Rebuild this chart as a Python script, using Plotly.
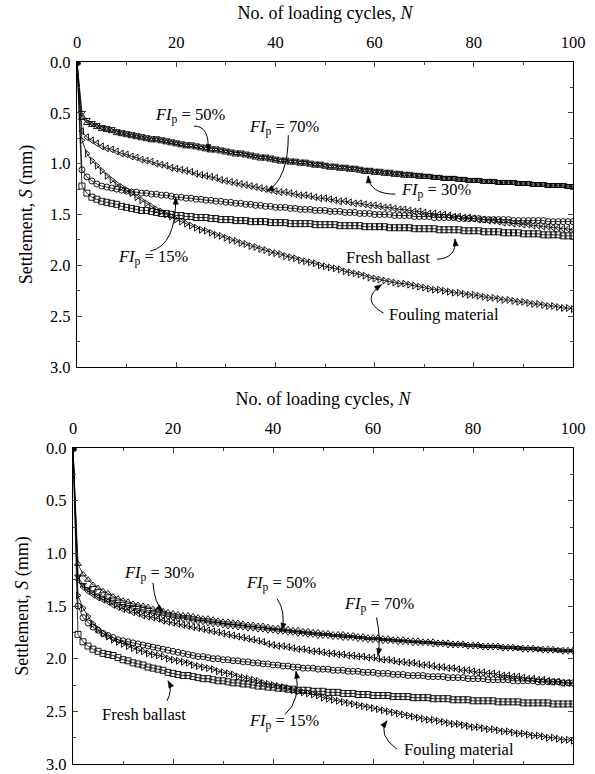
import math
import plotly.graph_objects as go

# ---------------- data ----------------
N = list(range(0, 101))

# Top panel
top_fresh = [0.00,
 1.22,1.29,1.33,1.35,1.37,1.38,1.39,1.40,1.42,1.43,
 1.44,1.45,1.46,1.46,1.47,1.48,1.49,1.49,1.50,1.51,
 1.51,1.52,1.52,1.53,1.53,1.53,1.54,1.54,1.55,1.55,
 1.55,1.56,1.56,1.56,1.57,1.57,1.57,1.57,1.58,1.58,
 1.58,1.58,1.59,1.59,1.59,1.59,1.59,1.60,1.60,1.60,
 1.60,1.60,1.61,1.61,1.61,1.61,1.61,1.62,1.62,1.62,
 1.62,1.62,1.63,1.63,1.63,1.63,1.63,1.64,1.64,1.64,
 1.64,1.64,1.65,1.65,1.65,1.65,1.65,1.66,1.66,1.66,
 1.66,1.67,1.67,1.67,1.67,1.68,1.68,1.68,1.68,1.69,
 1.69,1.69,1.69,1.70,1.70,1.70,1.70,1.71,1.71,1.71]
top_fi15 = [0.00,
 1.06,1.13,1.17,1.20,1.22,1.23,1.24,1.25,1.26,1.27,
 1.28,1.28,1.29,1.29,1.30,1.30,1.31,1.31,1.32,1.33,
 1.33,1.34,1.34,1.35,1.35,1.36,1.36,1.37,1.37,1.38,
 1.38,1.39,1.39,1.40,1.40,1.41,1.41,1.42,1.42,1.43,
 1.43,1.43,1.44,1.44,1.45,1.45,1.45,1.46,1.46,1.46,
 1.47,1.47,1.47,1.48,1.48,1.48,1.49,1.49,1.49,1.50,
 1.50,1.50,1.50,1.51,1.51,1.51,1.51,1.52,1.52,1.52,
 1.52,1.53,1.53,1.53,1.53,1.53,1.54,1.54,1.54,1.54,
 1.54,1.55,1.55,1.55,1.55,1.55,1.55,1.56,1.56,1.56,
 1.56,1.56,1.56,1.56,1.57,1.57,1.57,1.57,1.57,1.57]
top_fi30 = [0.00,
 0.55,0.60,0.62,0.64,0.66,0.67,0.68,0.70,0.71,0.72,
 0.73,0.74,0.75,0.76,0.77,0.77,0.78,0.79,0.80,0.81,
 0.82,0.83,0.83,0.84,0.85,0.86,0.87,0.87,0.88,0.89,
 0.90,0.91,0.91,0.92,0.93,0.94,0.95,0.95,0.96,0.97,
 0.98,0.98,0.99,0.99,1.00,1.00,1.01,1.02,1.02,1.03,
 1.04,1.04,1.05,1.05,1.06,1.06,1.07,1.08,1.08,1.09,
 1.09,1.10,1.10,1.11,1.11,1.12,1.12,1.12,1.13,1.13,
 1.13,1.14,1.14,1.15,1.15,1.15,1.16,1.16,1.17,1.17,
 1.17,1.18,1.18,1.18,1.19,1.19,1.19,1.19,1.20,1.20,
 1.20,1.21,1.21,1.21,1.22,1.22,1.22,1.22,1.23,1.23]
top_fi50 = [0.00,
 0.50,0.57,0.60,0.62,0.64,0.65,0.66,0.68,0.69,0.70,
 0.71,0.72,0.73,0.74,0.75,0.75,0.76,0.77,0.78,0.79,
 0.80,0.81,0.81,0.82,0.83,0.84,0.85,0.85,0.86,0.87,
 0.88,0.89,0.89,0.90,0.91,0.92,0.93,0.93,0.94,0.95,
 0.96,0.96,0.97,0.97,0.98,0.98,0.99,1.00,1.00,1.01,
 1.02,1.02,1.03,1.03,1.04,1.04,1.05,1.06,1.06,1.07,
 1.07,1.08,1.08,1.09,1.09,1.10,1.10,1.11,1.11,1.12,
 1.12,1.13,1.13,1.14,1.14,1.14,1.15,1.15,1.16,1.16,
 1.16,1.17,1.17,1.17,1.18,1.18,1.18,1.18,1.19,1.19,
 1.19,1.20,1.20,1.20,1.21,1.21,1.21,1.21,1.22,1.22]
top_fi70 = [0.00,
 0.68,0.74,0.77,0.80,0.83,0.85,0.86,0.88,0.90,0.91,
 0.93,0.94,0.96,0.97,0.98,1.00,1.01,1.02,1.04,1.05,
 1.06,1.07,1.08,1.10,1.11,1.12,1.13,1.14,1.16,1.17,
 1.18,1.19,1.20,1.21,1.22,1.23,1.24,1.25,1.26,1.27,
 1.28,1.28,1.29,1.30,1.31,1.31,1.32,1.33,1.34,1.34,
 1.35,1.36,1.37,1.37,1.38,1.39,1.39,1.40,1.41,1.41,
 1.42,1.43,1.43,1.44,1.45,1.45,1.46,1.47,1.47,1.48,
 1.49,1.49,1.50,1.50,1.51,1.52,1.52,1.53,1.53,1.54,
 1.55,1.55,1.56,1.56,1.57,1.58,1.58,1.59,1.59,1.60,
 1.60,1.61,1.61,1.62,1.62,1.63,1.63,1.64,1.64,1.65]
top_fouling = [0.00,
 0.77,0.90,0.97,1.02,1.07,1.12,1.16,1.20,1.23,1.26,
 1.29,1.33,1.36,1.39,1.42,1.45,1.47,1.50,1.52,1.55,
 1.57,1.59,1.61,1.63,1.65,1.66,1.68,1.70,1.71,1.73,
 1.75,1.76,1.78,1.79,1.81,1.82,1.84,1.85,1.87,1.88,
 1.89,1.91,1.92,1.93,1.95,1.96,1.97,1.98,2.00,2.01,
 2.02,2.03,2.04,2.06,2.07,2.08,2.09,2.10,2.12,2.13,
 2.14,2.15,2.16,2.17,2.18,2.18,2.19,2.20,2.21,2.22,
 2.23,2.24,2.24,2.25,2.26,2.27,2.27,2.28,2.29,2.29,
 2.30,2.31,2.32,2.32,2.33,2.34,2.34,2.35,2.36,2.36,
 2.37,2.38,2.38,2.39,2.40,2.40,2.41,2.42,2.42,2.43]

# Bottom panel
bot_fresh = [0.00,
 1.77,1.84,1.88,1.91,1.93,1.95,1.96,1.97,1.99,2.01,
 2.02,2.04,2.05,2.06,2.08,2.09,2.10,2.11,2.13,2.14,
 2.15,2.16,2.16,2.17,2.18,2.19,2.19,2.20,2.21,2.21,
 2.22,2.23,2.23,2.24,2.24,2.25,2.26,2.26,2.27,2.27,
 2.28,2.28,2.29,2.29,2.30,2.30,2.30,2.31,2.31,2.31,
 2.32,2.32,2.32,2.33,2.33,2.33,2.34,2.34,2.34,2.35,
 2.35,2.35,2.35,2.36,2.36,2.36,2.36,2.37,2.37,2.37,
 2.37,2.38,2.38,2.38,2.38,2.39,2.39,2.39,2.39,2.40,
 2.40,2.40,2.40,2.40,2.41,2.41,2.41,2.41,2.41,2.42,
 2.42,2.42,2.42,2.42,2.42,2.43,2.43,2.43,2.43,2.43]
bot_fi15 = [0.00,
 1.50,1.61,1.66,1.70,1.73,1.76,1.78,1.80,1.82,1.83,
 1.84,1.85,1.86,1.87,1.88,1.89,1.90,1.91,1.92,1.93,
 1.94,1.95,1.96,1.97,1.98,1.98,1.99,2.00,2.00,2.01,
 2.01,2.02,2.02,2.03,2.03,2.04,2.04,2.05,2.05,2.06,
 2.06,2.07,2.07,2.08,2.08,2.09,2.09,2.09,2.10,2.10,
 2.10,2.11,2.11,2.11,2.12,2.12,2.12,2.13,2.13,2.13,
 2.14,2.14,2.14,2.15,2.15,2.15,2.16,2.16,2.16,2.16,
 2.17,2.17,2.17,2.17,2.18,2.18,2.18,2.18,2.19,2.19,
 2.19,2.19,2.20,2.20,2.20,2.20,2.20,2.21,2.21,2.21,
 2.21,2.21,2.22,2.22,2.22,2.22,2.22,2.23,2.23,2.23]
bot_fi30 = [0.00,
 1.10,1.20,1.25,1.30,1.33,1.36,1.38,1.41,1.43,1.45,
 1.46,1.48,1.49,1.50,1.51,1.53,1.54,1.55,1.56,1.57,
 1.58,1.59,1.59,1.60,1.61,1.62,1.62,1.63,1.64,1.65,
 1.65,1.66,1.66,1.67,1.68,1.68,1.69,1.69,1.70,1.71,
 1.71,1.72,1.72,1.73,1.73,1.74,1.74,1.75,1.75,1.76,
 1.76,1.77,1.77,1.77,1.78,1.78,1.79,1.79,1.80,1.80,
 1.80,1.81,1.81,1.82,1.82,1.82,1.83,1.83,1.83,1.84,
 1.84,1.84,1.85,1.85,1.85,1.86,1.86,1.86,1.87,1.87,
 1.87,1.88,1.88,1.88,1.88,1.89,1.89,1.89,1.90,1.90,
 1.90,1.90,1.91,1.91,1.91,1.91,1.92,1.92,1.92,1.92]
bot_fi50 = [0.00,
 1.22,1.30,1.34,1.37,1.40,1.42,1.44,1.46,1.48,1.50,
 1.51,1.52,1.54,1.55,1.56,1.57,1.58,1.59,1.60,1.61,
 1.62,1.62,1.63,1.64,1.65,1.65,1.66,1.67,1.67,1.68,
 1.69,1.69,1.70,1.70,1.71,1.71,1.72,1.72,1.73,1.73,
 1.74,1.74,1.75,1.75,1.76,1.76,1.77,1.77,1.78,1.78,
 1.78,1.79,1.79,1.80,1.80,1.80,1.81,1.81,1.82,1.82,
 1.82,1.83,1.83,1.83,1.84,1.84,1.84,1.85,1.85,1.85,
 1.85,1.86,1.86,1.86,1.87,1.87,1.87,1.87,1.88,1.88,
 1.88,1.89,1.89,1.89,1.89,1.90,1.90,1.90,1.90,1.91,
 1.91,1.91,1.91,1.92,1.92,1.92,1.92,1.93,1.93,1.93]
bot_fi70 = [0.00,
 1.25,1.32,1.36,1.39,1.42,1.44,1.46,1.49,1.51,1.53,
 1.54,1.56,1.57,1.59,1.60,1.61,1.62,1.64,1.65,1.66,
 1.67,1.68,1.69,1.70,1.71,1.72,1.73,1.74,1.75,1.76,
 1.77,1.78,1.79,1.80,1.81,1.82,1.83,1.84,1.86,1.87,
 1.88,1.88,1.89,1.90,1.91,1.91,1.92,1.93,1.93,1.94,
 1.95,1.95,1.96,1.96,1.97,1.97,1.98,1.98,1.99,1.99,
 2.00,2.01,2.01,2.02,2.03,2.03,2.04,2.04,2.05,2.06,
 2.06,2.07,2.08,2.08,2.09,2.09,2.10,2.11,2.11,2.12,
 2.13,2.13,2.14,2.14,2.15,2.16,2.16,2.17,2.17,2.18,
 2.19,2.19,2.20,2.20,2.21,2.22,2.22,2.23,2.23,2.24]
bot_fouling = [0.00,
 1.40,1.52,1.60,1.67,1.72,1.76,1.79,1.82,1.84,1.86,
 1.88,1.90,1.92,1.93,1.95,1.96,1.97,1.98,2.00,2.01,
 2.02,2.03,2.04,2.06,2.07,2.08,2.09,2.10,2.12,2.13,
 2.14,2.15,2.17,2.18,2.19,2.20,2.21,2.23,2.24,2.25,
 2.26,2.27,2.28,2.30,2.31,2.32,2.33,2.34,2.35,2.37,
 2.38,2.39,2.40,2.41,2.42,2.43,2.44,2.45,2.46,2.47,
 2.48,2.49,2.50,2.51,2.52,2.53,2.54,2.55,2.56,2.57,
 2.58,2.58,2.59,2.60,2.61,2.62,2.62,2.63,2.64,2.65,
 2.65,2.66,2.67,2.67,2.68,2.69,2.69,2.70,2.71,2.71,
 2.72,2.73,2.73,2.74,2.75,2.75,2.76,2.77,2.77,2.78]

series_names = ["Fresh ballast", "FI 15%", "FI 30%", "FI 50%", "FI 70%", "Fouling material"]
series_symbols = ["square-open", "circle-open", "triangle-up-open",
                  "triangle-down-open", "triangle-left-open", "triangle-right-open"]
top_series = [top_fresh, top_fi15, top_fi30, top_fi50, top_fi70, top_fouling]
bot_series = [bot_fresh, bot_fi15, bot_fi30, bot_fi50, bot_fi70, bot_fouling]

x_ticks = [0, 20, 40, 60, 80, 100]
y_ticks = [0.0, 0.5, 1.0, 1.5, 2.0, 2.5, 3.0]

FONT = '"Liberation Serif", "Times New Roman", serif'
W, H = 595, 774
TICK_SIZE, TITLE_SIZE, NOTE_SIZE = 16.5, 18, 16.5

# plot-area pixel boxes (left, right, top, bottom)
TOP_BOX = (77, 573, 62, 367)
BOT_BOX = (73, 573, 448, 764)

fig = go.Figure()
for vals, name, sym in zip(top_series, series_names, series_symbols):
    fig.add_trace(go.Scatter(x=N, y=vals, name=name, mode="lines+markers",
                             line=dict(color="black", width=0.8),
                             marker=dict(symbol=sym, size=6, color="black",
                                         line=dict(width=0.9, color="black")),
                             xaxis="x", yaxis="y", showlegend=False))
for vals, name, sym in zip(bot_series, series_names, series_symbols):
    fig.add_trace(go.Scatter(x=N, y=vals, name=name, mode="lines+markers",
                             line=dict(color="black", width=0.8),
                             marker=dict(symbol=sym, size=6, color="black",
                                         line=dict(width=0.9, color="black")),
                             xaxis="x2", yaxis="y2", showlegend=False))

def xax(box, anchor):
    return dict(domain=[box[0] / W, box[1] / W], anchor=anchor, side="top", range=[0, 100],
                automargin=False, ticklabeloverflow="allow", ticklabelstandoff=6,
                tickvals=x_ticks, ticks="inside", ticklen=5, tickwidth=1,
                minor=dict(dtick=10, tick0=0, ticks="inside", ticklen=3, tickwidth=1),
                showline=True, linecolor="black", linewidth=1.2, mirror="ticks",
                showgrid=False, zeroline=False,
                tickfont=dict(family=FONT, size=TICK_SIZE, color="black"),
                title=dict(text="No. of loading cycles, <i>N</i>",
                           font=dict(family=FONT, size=TITLE_SIZE, color="black"), standoff=8))

def yax(box, anchor):
    return dict(domain=[1 - box[3] / H, 1 - box[2] / H], anchor=anchor, range=[3, 0],
                automargin=False, ticklabeloverflow="allow", ticklabelstandoff=2,
                tickvals=y_ticks, tickformat=".1f", ticks="inside", ticklen=5, tickwidth=1,
                minor=dict(dtick=0.25, tick0=0, ticks="inside", ticklen=3, tickwidth=1),
                showline=True, linecolor="black", linewidth=1.2, mirror="ticks",
                showgrid=False, zeroline=False,
                tickfont=dict(family=FONT, size=TICK_SIZE, color="black"),
                title=dict(text="Settlement, <i>S</i> (mm)",
                           font=dict(family=FONT, size=TITLE_SIZE, color="black"), standoff=12))

fig.update_layout(
    width=W, height=H,
    margin=dict(l=0, r=0, t=0, b=0, autoexpand=False),
    paper_bgcolor="white", plot_bgcolor="white",
    font=dict(family=FONT, color="black"),
    xaxis=xax(TOP_BOX, "y"),
    yaxis=yax(TOP_BOX, "x"),
    xaxis2=xax(BOT_BOX, "y2"),
    yaxis2=yax(BOT_BOX, "x2"),
)

# ---------------- annotations: label text, curved leader, arrowhead ----------------
def fi(p):
    return "<i>FI</i><sub>p</sub> = %s" % p

# (xaxis, yaxis, text, text_x, text_y, start, control, tip)
labels = [
    ("x", "y", fi("50%"), 22.8, 0.53, (23.6, 0.63), (26.8, 0.63), (26.4, 0.88)),
    ("x", "y", fi("70%"), 41.7, 0.64, (42.6, 0.72), (42.6, 1.15), (38.3, 1.27)),
    ("x", "y", fi("30%"), 72.4, 1.26, (64.2, 1.30), (59.0, 1.30), (58.7, 1.12)),
    ("x", "y", fi("15%"), 15.3, 1.92, (14.8, 1.86), (20.0, 1.80), (19.9, 1.33)),
    ("x", "y", "Fresh ballast", 62.6, 1.92, (72.6, 1.94), (76.6, 1.93), (76.2, 1.74)),
    ("x", "y", "Fouling material", 74.0, 2.48, (61.8, 2.47), (57.0, 2.34), (61.4, 2.19)),
    ("x2", "y2", fi("30%"), 17.2, 1.19, (16.0, 1.28), (16.3, 1.48), (18.0, 1.55)),
    ("x2", "y2", fi("50%"), 41.6, 1.29, (40.8, 1.43), (42.6, 1.55), (41.8, 1.73)),
    ("x2", "y2", fi("70%"), 61.2, 1.49, (60.7, 1.61), (61.6, 1.80), (61.0, 1.97)),
    ("x2", "y2", "Fresh ballast", 14.2, 2.53, (18.8, 2.40), (20.0, 2.30), (19.0, 2.21)),
    ("x2", "y2", fi("15%"), 42.2, 2.60, (42.4, 2.53), (45.6, 2.40), (44.6, 2.12)),
    ("x2", "y2", "Fouling material", 77.2, 2.86, (64.8, 2.86), (60.8, 2.72), (62.8, 2.59)),
]

HEAD_L, HEAD_W = 7.0, 2.6
for xr, yr, txt, tx, ty, s, c, t in labels:
    box = TOP_BOX if xr == "x" else BOT_BOX
    sx = (box[1] - box[0]) / 100.0
    sy = (box[3] - box[2]) / 3.0
    fig.add_annotation(x=tx, y=ty, xref=xr, yref=yr, text=txt, showarrow=False,
                       font=dict(family=FONT, size=NOTE_SIZE, color="black"))
    fig.add_shape(type="path", xref=xr, yref=yr,
                  path="M %f,%f Q %f,%f %f,%f" % (s[0], s[1], c[0], c[1], t[0], t[1]),
                  line=dict(color="black", width=1))
    dx = (t[0] - c[0]) * sx
    dy = (t[1] - c[1]) * sy
    L = math.hypot(dx, dy) or 1.0
    ux, uy = dx / L, dy / L
    nx, ny = -uy, ux
    bx, by = -HEAD_L * ux, -HEAD_L * uy
    p1 = (bx + HEAD_W * nx, by + HEAD_W * ny)
    p2 = (bx - HEAD_W * nx, by - HEAD_W * ny)
    path = "M 0,0 L %f,%f L %f,%f Z" % (p1[0], -p1[1], p2[0], -p2[1])
    fig.add_shape(type="path", xref=xr, yref=yr, xsizemode="pixel", ysizemode="pixel",
                  xanchor=t[0], yanchor=t[1], path=path,
                  fillcolor="black", line=dict(color="black", width=0.5))

fig.write_html("out.html", config={"displayModeBar": False},
               post_script="document.body.style.margin='0';document.body.style.padding='0';")
